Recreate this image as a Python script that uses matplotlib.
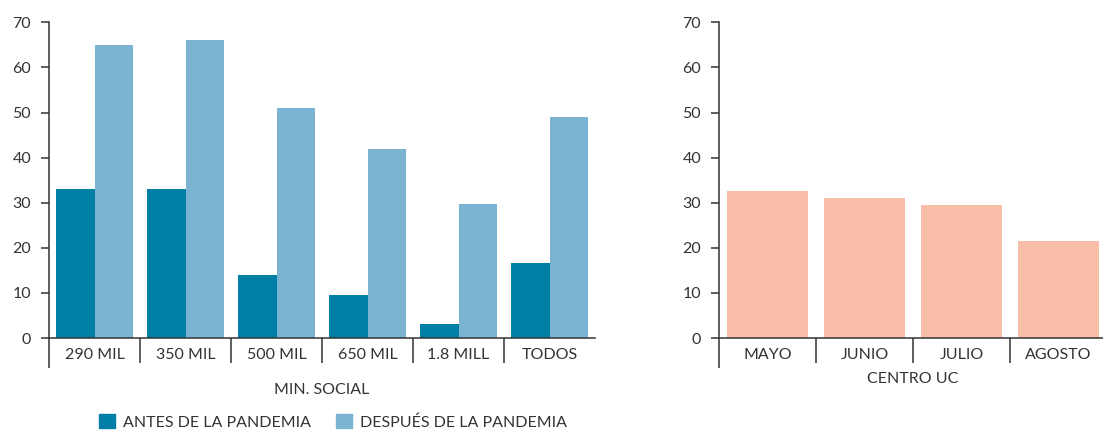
import matplotlib
matplotlib.use("Agg")
import matplotlib.pyplot as plt
import numpy as np
from matplotlib.patches import Patch

plt.rcParams['font.family'] = ['Lato', 'DejaVu Sans']

# data
groups = ["290 MIL", "350 MIL", "500 MIL", "650 MIL", "1.8 MILL", "TODOS"]
antes = [33, 33, 14, 9.5, 3, 16.6]
despues = [65, 66, 51, 42, 29.7, 49]
months = ["MAYO", "JUNIO", "JULIO", "AGOSTO"]
centro = [32.6, 31.0, 29.5, 21.5]
yticks = [0, 10, 20, 30, 40, 50, 60, 70]

C_DARK = "#007FA6"
C_LIGHT = "#7AB4D2"
C_SALMON = "#F8BEA8"
TXT = "#333333"
FS = 11.5

W, H = 1103, 430
fig = plt.figure(figsize=(W / 100, H / 100), dpi=100)

def style(ax, n, xlabel, label_y):
    ax.set_ylim(0, 70)
    ax.set_xlim(-0.5, n - 0.5)
    for s in ["top", "right"]:
        ax.spines[s].set_visible(False)
    for s in ["left", "bottom"]:
        ax.spines[s].set_color(TXT)
        ax.spines[s].set_linewidth(1.1)
    ax.set_yticks(yticks)
    ax.tick_params(axis='y', direction='out', length=5.8, width=1.1, color=TXT,
                   pad=7, labelsize=FS, labelcolor=TXT)
    ax.set_xticks(np.arange(n))
    ax.tick_params(axis='x', which='major', length=0, pad=7, labelsize=FS, labelcolor=TXT)
    ax.set_xticks(np.arange(n - 1) + 0.5, minor=True)
    ax.tick_params(axis='x', which='minor', direction='out', length=18, width=1.1, color=TXT)
    ax.plot([-0.5, -0.5], [-6.6, 0], color=TXT, lw=1.1, clip_on=False, solid_capstyle='butt')
    ax.text(0.5, label_y, xlabel, transform=ax.transAxes, ha='center', va='center',
            fontsize=FS, color=TXT)

# left chart
ax1 = fig.add_axes([49 / W, (H - 338) / H, 546 / W, 315.7 / H])
x = np.arange(len(groups))
bw = 0.423
ax1.bar(x - bw / 2, antes, bw, color=C_DARK, linewidth=0)
ax1.bar(x + bw / 2, despues, bw, color=C_LIGHT, linewidth=0)
ax1.set_xticklabels(groups)
style(ax1, len(groups), "MIN. SOCIAL", -52 / 315.7)

# right chart
ax2 = fig.add_axes([719 / W, (H - 338) / H, 388 / W, 315.7 / H])
x2 = np.arange(len(months))
ax2.bar(x2, centro, 0.835, color=C_SALMON, linewidth=0)
ax2.set_xticklabels(months)
style(ax2, len(months), "CENTRO UC", -41 / 315.7)

handles = [Patch(color=C_DARK, label="ANTES DE LA PANDEMIA"),
           Patch(color=C_LIGHT, label="DESPUÉS DE LA PANDEMIA")]
leg = fig.legend(handles=handles, loc='center', bbox_to_anchor=(333 / W, 8 / H),
                 ncol=2, frameon=False, fontsize=FS, handlelength=1.0, handleheight=1.0,
                 handletextpad=0.5, columnspacing=1.6, borderpad=0)
for t in leg.get_texts():
    t.set_color(TXT)

fig.savefig("out.png", dpi=100)
